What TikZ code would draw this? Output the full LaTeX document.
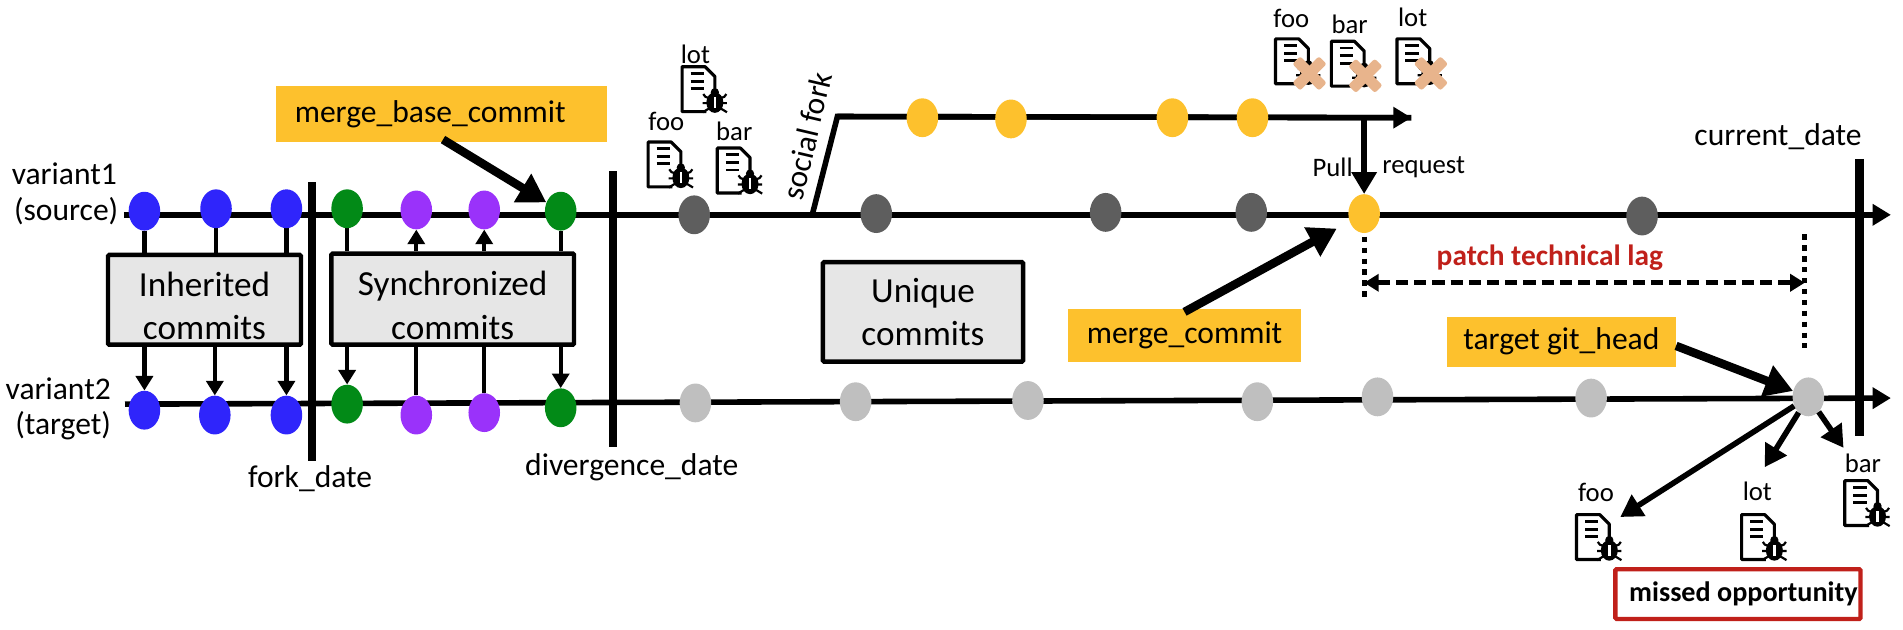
\documentclass[tikz,border=0pt]{standalone}
\usepackage{fontspec}
\setmainfont{Carlito}
\usetikzlibrary{arrows.meta,shapes.geometric,backgrounds}
\definecolor{cblue}{HTML}{2F25FB}
\definecolor{cgreen}{HTML}{028A17}
\definecolor{cpurple}{HTML}{9A32FA}
\definecolor{cdark}{HTML}{5E5E5E}
\definecolor{clight}{HTML}{BFBFBF}
\definecolor{cgold}{HTML}{FDC12D}
\definecolor{cbox}{HTML}{E6E6E6}
\definecolor{cred}{HTML}{C0201A}
\definecolor{cplaster}{HTML}{E8B48C}
\newcommand{\fs}[1]{\fontsize{#1}{#1}\selectfont}
\tikzset{
  x=1pt,y=-1pt,
  commit/.style={ellipse,minimum width=26pt,minimum height=32pt,inner sep=0pt,fill=#1},
  timeline/.style={line width=4.6pt,-{Triangle[length=15pt,width=17pt]}},
  datebar/.style={line width=7pt},
  link/.style={line width=3.6pt},
  linkarrow/.style={line width=3.6pt,-{Triangle[length=12pt,width=14pt]}},
  heavy/.style={line width=7pt,-{Triangle[length=23pt,width=26pt]}},
  midarrow/.style={line width=4.6pt,-{Triangle[length=18pt,width=20pt]}},
  greybox/.style={draw=black,line width=3.6pt,fill=cbox,rounded corners=1pt,inner sep=0pt,align=center,font=\fs{29}},
  goldbox/.style={fill=cgold,inner sep=0pt,font=\fs{26}},
  lab/.style={inner sep=0pt,font=\fs{26},align=center},
  small/.style={inner sep=0pt,font=\fs{22}},
  pics/docbase/.style={code={
    \draw[line width=2.6pt,line join=round] (20,37)--(0,37)--(0,0)--(19,0)--(27,8)--(27,21);
    \draw[line width=2.3pt] (7,5.5)--(18,5.5) (7,12)--(18,12) (7,18)--(18,18);
  }},
  pics/bugdoc/.style={code={
    \pic {docbase};
    \draw[line width=1.8pt] (17.5,22.5) .. controls (19,25) .. (22,25.5)
      (36.5,22.5) .. controls (35,25) .. (32,25.5)
      (17,30) -- (37,30)
      (17,37.5) .. controls (19,36) .. (22,34.5)
      (37,37.5) .. controls (35,36) .. (32,34.5);
    \fill (27,21) circle (3.4);
    \fill[black] (27,29.5) ellipse (7 and 8.5);
    \fill[white] (26,25) rectangle (28,34);
  }},
  pics/curedoc/.style={code={
    \pic {bugdoc};
    \fill[cplaster,rounded corners=2pt,rotate around={45:(28,28.5)}] (12.5,24) rectangle (43.5,33);
    \fill[cplaster,rounded corners=2pt,rotate around={-45:(28,28.5)}] (12.5,24) rectangle (43.5,33);
  }},
}
\begin{document}
\begin{tikzpicture}
\useasboundingbox (0,0) rectangle (1568,518.28);
% commits on variant1
\node[commit=cblue] (a1) at (119,174) {};
\node[commit=cblue] (a2) at (178,172) {};
\node[commit=cblue] (a3) at (236,172) {};
\node[commit=cgreen] (a4) at (286,172) {};
\node[commit=cpurple] (a5) at (343,173) {};
\node[commit=cpurple] (a6) at (399,173) {};
\node[commit=cgreen] (a7) at (462,174) {};
\node[commit=cdark] (a8) at (572,177) {};
\node[commit=cdark] (a9) at (722,176) {};
\node[commit=cdark] (a10) at (911,175) {};
\node[commit=cdark] (a11) at (1031,175) {};
\node[commit=cgold] (merge) at (1124,176) {};
\node[commit=cdark] (a12) at (1353,178) {};
% commits on variant2
\node[commit=cblue] (b1) at (119,338) {};
\node[commit=cblue] (b2) at (177,342) {};
\node[commit=cblue] (b3) at (236,342) {};
\node[commit=cgreen] (b4) at (286,333) {};
\node[commit=cpurple] (b5) at (343,342) {};
\node[commit=cpurple] (b6) at (399,340) {};
\node[commit=cgreen] (b7) at (462,336) {};
\node[commit=clight] (b8) at (573,332) {};
\node[commit=clight] (b9) at (705,331) {};
\node[commit=clight] (b10) at (847,330) {};
\node[commit=clight] (b11) at (1036,331) {};
\node[commit=clight] (b12) at (1135,327) {};
\node[commit=clight] (b13) at (1311,328) {};
\node[commit=clight] (head) at (1490,327) {};
% social fork commits
\node[commit=cgold] (c1) at (760,97) {};
\node[commit=cgold] (c2) at (833,98) {};
\node[commit=cgold] (c3) at (966,97) {};
\node[commit=cgold] (c4) at (1032,97) {};
% boxes
\node[greybox,minimum width=159pt,minimum height=74pt] (inh) at (168.5,247) {\rule{0pt}{30pt}Inherited\\[7pt]commits};
\node[greybox,minimum width=200pt,minimum height=75pt] (syn) at (373,246.5) {\rule{0pt}{30pt}Synchronized\\[7pt]commits};
\node[greybox,minimum width=165pt,minimum height=82pt] (uni) at (760.5,257) {Unique\\[7pt]commits};
% gold labels
\node[goldbox,minimum width=273pt,minimum height=46pt] (mbc) at (363.5,94) {merge\_base\_commit\kern18pt};
\node[goldbox,minimum width=192pt,minimum height=43pt] (mc) at (976,276.5) {merge\_commit};
\node[goldbox,minimum width=189pt,minimum height=41pt] (tgh) at (1286.5,281.5) {target git\_head};
% free ends
\coordinate (v1s) at (102,177);
\coordinate (v1e) at (1558,177);
\coordinate (v2s) at (103,333);
\coordinate (v2e) at (1558,328);
\coordinate (f0) at (669,178);
\coordinate (f1) at (690,96);
\coordinate (f2) at (1163,97);
\coordinate (pr) at (1124,97);
\coordinate (fd1) at (257,150);
\coordinate (fd2) at (257,380);
\coordinate (dd1) at (505,141);
\coordinate (dd2) at (505,368);
\coordinate (cd1) at (1532,131);
\coordinate (cd2) at (1532,359);
\coordinate (lagL0) at (1124,195);
\coordinate (lagL1) at (1124,246);
\coordinate (lagR0) at (1487,193);
\coordinate (lagR1) at (1487,287);
\coordinate (lagA) at (1124,233);
\coordinate (lagB) at (1487,233);
\coordinate (mfoo) at (1335,426);
\coordinate (mlot) at (1454,385);
\coordinate (mbar) at (1519,369);
\coordinate (mbcs) at (365,115);
\coordinate (mcs) at (976,257);
\coordinate (tghs) at (1381,285);
\begin{scope}[on background layer]
\draw[timeline] (v1s) -- (v1e);
\draw[timeline] (v2s) -- (v2e);
\draw[line width=4.6pt,line join=miter] (f0) -- (f1) -- (f2);
\draw[timeline] (f1) -- (f2);
\draw[link] (a1) -- (a1 |- inh.north);
\draw[link] (a2) -- (a2 |- inh.north);
\draw[link] (a3) -- (a3 |- inh.north);
\draw[link] (a4) -- (a4 |- syn.north);
\draw[link] (a7) -- (a7 |- syn.north);
\draw[link] (b5.north) -- (b5 |- syn.south);
\draw[link] (b6.north) -- (b6 |- syn.south);
\end{scope}
\draw[linkarrow] (a5 |- syn.north) -- (a5.south);
\draw[linkarrow] (a6 |- syn.north) -- (a6.south);
\draw[linkarrow] (b1 |- inh.south) -- (b1.north);
\draw[linkarrow] (b2 |- inh.south) -- (b2.north);
\draw[linkarrow] (b3 |- inh.south) -- (b3.north);
\draw[linkarrow] (b4 |- syn.south) -- (b4.north);
\draw[linkarrow] (b7 |- syn.south) -- (b7.north);
% date bars
\draw[datebar] (fd1) -- (fd2);
\draw[datebar] (dd1) -- (dd2);
\draw[datebar] (cd1) -- (cd2);
% heavy arrows
\draw[heavy] (mbcs) -- (a7);
\draw[heavy,shorten >=12pt] (mcs) -- (merge);
\draw[heavy] (tghs) -- (head);
\draw[midarrow] (pr) -- (merge.north);
\draw[midarrow] (head) -- (mfoo);
\draw[midarrow] (head) -- (mlot);
\draw[midarrow] (head) -- (mbar);
% lag
\draw[line width=4pt,dash pattern=on 4.5pt off 4.5pt] (lagL0) -- (lagL1);
\draw[line width=4pt,dash pattern=on 4.5pt off 4.5pt] (lagR0) -- (lagR1);
\draw[line width=3.8pt,dash pattern=on 10pt off 5pt,{Triangle[length=12pt,width=14pt]}-{Triangle[length=12pt,width=14pt]}] (lagA) -- (lagB);
% texts
\node[lab] (v1a) at (53,143) {variant1};
\node[lab] (v1b) at (54.5,174) {(source)};
\node[lab] (v2a) at (48,320) {variant2};
\node[lab] (v2b) at (52,351) {(target)};
\node[lab] (fdt) at (255.5,394) {fork\_date};
\node[lab] (ddt) at (520.5,385) {divergence\_date};
\node[lab] (cdt) at (1465,113) {current\_date};
\node[lab,rotate=76.8] (sf) at (665,112) {social fork};
\node[small] (pull) at (1098,138) {Pull};
\node[small] (req) at (1173,138) {request};
\node[inner sep=0pt,text=cred,font=\fs{24.2}\bfseries] (lag) at (1277,212) {patch technical lag};
\node[draw=cred,line width=3.6pt,rounded corners=1pt,minimum width=202pt,minimum height=41pt,inner sep=0pt,font=\fs{23.2}\bfseries] (missed) at (1432,489.5) {\hspace{9pt}missed opportunity};
% documents
\node[small] (l1) at (573,45) {lot};
\node[small] (l2) at (549,100) {foo};
\node[small] (l3) at (605,108) {bar};
\pic at (562,55) {bugdoc};
\pic at (534,117) {bugdoc};
\pic at (591,122) {bugdoc};
\node[small] (l4) at (1064,15) {foo};
\node[small] (l5) at (1112,20) {bar};
\node[small] (l6) at (1164,14) {lot};
\pic at (1051,32) {curedoc};
\pic at (1097,34) {curedoc};
\pic at (1151,32) {curedoc};
\node[small] (l7) at (1315,406) {foo};
\node[small] (l8) at (1448,405) {lot};
\node[small] (l9) at (1535,382) {bar};
\pic at (1299,424) {bugdoc};
\pic at (1435,424) {bugdoc};
\pic at (1520,396) {bugdoc};
\end{tikzpicture}
\end{document}
